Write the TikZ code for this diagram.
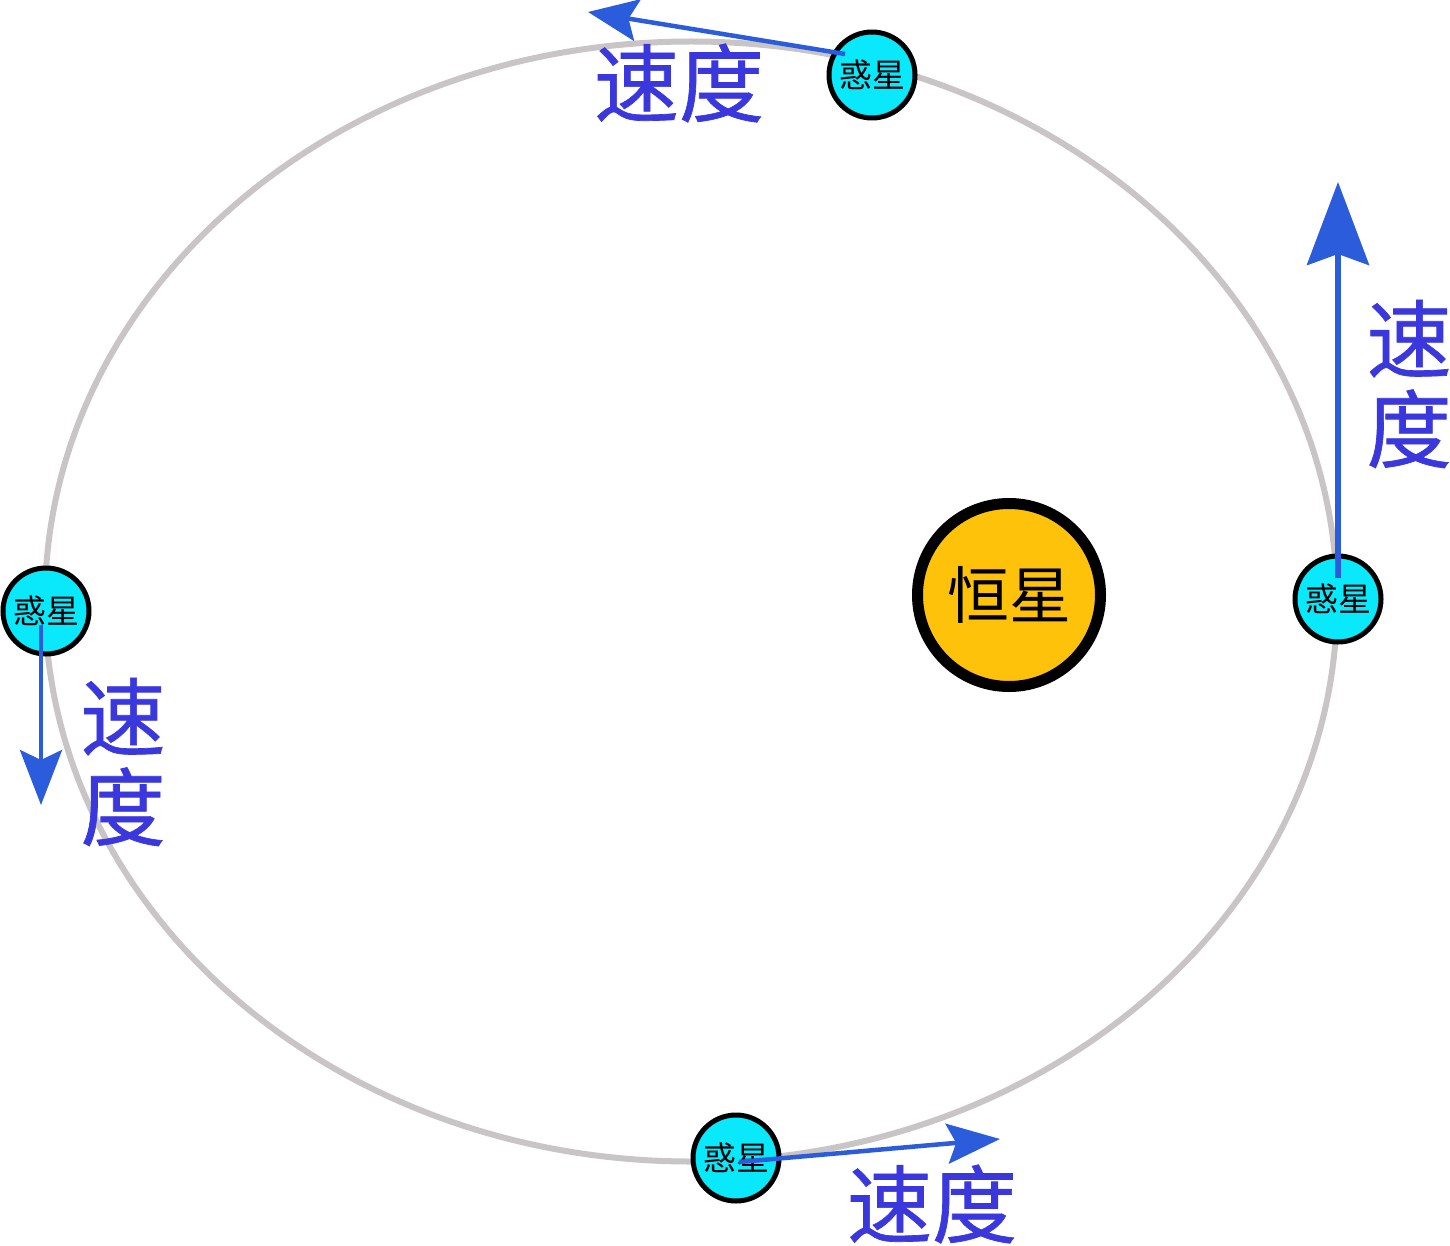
\documentclass[tikz,border=0pt]{standalone}
\usepackage{fontspec}
\setmainfont{Noto Sans CJK SC}
\newfontfamily\cjkthick[FakeBold=0.8]{Noto Sans CJK SC}
\usetikzlibrary{arrows.meta}
\definecolor{orbitgray}{HTML}{C9C5C7}
\definecolor{planetcyan}{HTML}{0AE8FC}
\definecolor{stargold}{HTML}{FFC20A}
\definecolor{velblue}{HTML}{2B5CDB}
\definecolor{labelblue}{HTML}{3A38DC}
\begin{document}
\begin{tikzpicture}[x=1pt,y=-1pt,
        planet/.style={draw, circle, fill=planetcyan, line width=5pt, minimum size=86pt, inner sep=0pt, font=\fontsize{33}{33}\selectfont},
        star/.style={draw, circle, fill=stargold, line width=11pt, minimum size=183pt, inner sep=0pt, font=\fontsize{62}{62}\selectfont},
        vel/.style={draw=velblue, fill=velblue, line width=4.5pt},
        vlabel/.style={text=labelblue, align=center, inner sep=0pt, font=\cjkthick\fontsize{85}{90}\selectfont}]
        \useasboundingbox (0,0) rectangle (1450,1246);
        \draw[orbitgray, line width=6pt] (691,601.5) ellipse [x radius=646, y radius=560];

        \node[star] (sun) at (1009,595) {恒星};
        \node[planet] (top) at (872,75) {惑星};
        \node[planet] (right) at (1338,599) {惑星};
        \node[planet] (left) at (46,611) {惑星};
        \node[planet] (bottom) at (736,1158) {惑星};

        %velocity arrows
        \coordinate (topv) at (588,12);
        \coordinate (rightv) at (1338,182);
        \coordinate (leftv) at (41,805);
        \coordinate (bottomv) at (1000,1139);
        \path[vel,-{Stealth[length=50pt,width=42pt,inset=9pt]}] ([shift={(-27,-21)}]top.center) -- (topv);
        \path[vel,line width=5.5pt,-{Stealth[length=83pt,width=62pt,inset=11pt]}] ([shift={(0,-21)}]right.center) -- (rightv);
        \path[vel,-{Stealth[length=55pt,width=42pt,inset=10pt]}] ([shift={(-5,14)}]left.center) -- (leftv);
        \path[vel,-{Stealth[length=53pt,width=40pt,inset=9pt]}] ([shift={(3,4)}]bottom.center) -- (bottomv);

        \node[vlabel] (topl) at (679,83) {速度};
        \node[vlabel] (rightl) at (1409,384) {速\\度};
        \node[vlabel] (leftl) at (123,762) {速\\度};
        \node[vlabel] (bottoml) at (932,1204) {速度};
    \end{tikzpicture}
\end{document}
